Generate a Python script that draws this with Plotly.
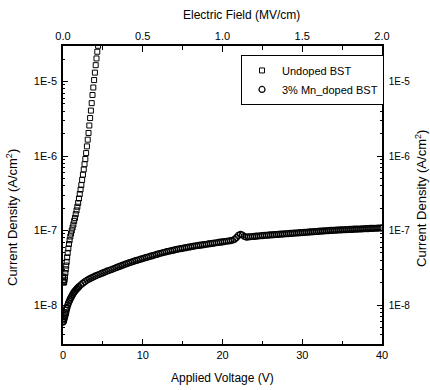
import numpy as np
import plotly.graph_objects as go

# Undoped BST: applied voltage (V) and log10 of current density (A/cm^2)
voltage_undoped = [0.0, 0.05, 0.1, 0.15, 0.2, 0.25, 0.3, 0.35, 0.4, 0.46, 0.52, 0.59,
                   0.67, 0.75, 0.83, 0.92, 1.0, 1.1, 1.2, 1.3, 1.4, 1.5, 1.6, 1.7,
                   1.8, 1.9, 2.0, 2.1, 2.2, 2.3, 2.4, 2.5, 2.6, 2.7, 2.8, 2.9,
                   3.0, 3.1, 3.2, 3.3, 3.4, 3.5, 3.6, 3.7, 3.8, 3.9, 4.0, 4.1,
                   4.2, 4.3, 4.4, 4.5]
log_j_undoped = [-7.62, -7.68, -7.70, -7.69, -7.66, -7.62, -7.57, -7.52, -7.47, -7.42, -7.36, -7.30,
                 -7.24, -7.18, -7.13, -7.08, -7.04, -7.00, -6.96, -6.92, -6.87, -6.83, -6.78, -6.73,
                 -6.68, -6.63, -6.57, -6.51, -6.45, -6.39, -6.32, -6.25, -6.18, -6.11, -6.04, -5.96,
                 -5.87, -5.78, -5.69, -5.59, -5.49, -5.39, -5.29, -5.18, -5.08, -4.98, -4.88, -4.78,
                 -4.69, -4.60, -4.52, -4.44]

# 3% Mn-doped BST
voltage_doped = [
    0.0, 0.05, 0.1, 0.15, 0.2, 0.25, 0.3, 0.35, 0.4, 0.45, 0.5, 0.6, 0.7, 0.8, 0.9,
    1.0, 1.1, 1.2, 1.3, 1.4, 1.5, 1.6, 1.7, 1.8, 1.9,
    2.0, 2.25, 2.5, 2.75, 3.0, 3.25, 3.5, 3.75, 4.0, 4.25, 4.5, 4.75,
    5.0, 5.25, 5.5, 5.75, 6.0, 6.25, 6.5, 6.75, 7.0, 7.25, 7.5, 7.75,
    8.0, 8.25, 8.5, 8.75, 9.0, 9.25, 9.5, 9.75, 10.0, 10.25, 10.5, 10.75,
    11.0, 11.25, 11.5, 11.75, 12.0, 12.25, 12.5, 12.75, 13.0, 13.25, 13.5, 13.75,
    14.0, 14.25, 14.5, 14.75, 15.0, 15.25, 15.5, 15.75, 16.0, 16.25, 16.5, 16.75,
    17.0, 17.25, 17.5, 17.75, 18.0, 18.25, 18.5, 18.75, 19.0, 19.25, 19.5, 19.75,
    20.0, 20.25, 20.5, 20.75, 21.0, 21.25, 21.5, 21.75, 22.0, 22.25, 22.5, 22.75,
    23.0, 23.25, 23.5, 23.75, 24.0, 24.25, 24.5, 24.75, 25.0, 25.25, 25.5, 25.75,
    26.0, 26.25, 26.5, 26.75, 27.0, 27.25, 27.5, 27.75, 28.0, 28.25, 28.5, 28.75,
    29.0, 29.25, 29.5, 29.75, 30.0, 30.25, 30.5, 30.75, 31.0, 31.25, 31.5, 31.75,
    32.0, 32.25, 32.5, 32.75, 33.0, 33.25, 33.5, 33.75, 34.0, 34.25, 34.5, 34.75,
    35.0, 35.25, 35.5, 35.75, 36.0, 36.25, 36.5, 36.75, 37.0, 37.25, 37.5, 37.75,
    38.0, 38.25, 38.5, 38.75, 39.0, 39.25, 39.5, 39.75, 40.0]
log_j_doped = [
    -8.23, -8.22, -8.20, -8.18, -8.16, -8.14, -8.12, -8.10, -8.07, -8.05, -8.03, -8.00, -7.97, -7.945, -7.92,
    -7.90, -7.88, -7.86, -7.84, -7.826, -7.812, -7.799, -7.787, -7.775, -7.764,
    -7.753, -7.728, -7.706, -7.686, -7.668, -7.652, -7.638, -7.625, -7.613, -7.601, -7.590, -7.579,
    -7.568, -7.557, -7.546, -7.536, -7.526, -7.517, -7.506, -7.495, -7.484, -7.474, -7.464, -7.454,
    -7.444, -7.435, -7.426, -7.417, -7.408, -7.400, -7.392, -7.384, -7.376, -7.368, -7.360, -7.352,
    -7.344, -7.336, -7.328, -7.320, -7.312, -7.305, -7.298, -7.291, -7.284, -7.278, -7.272, -7.266,
    -7.260, -7.254, -7.248, -7.243, -7.238, -7.233, -7.228, -7.223, -7.218, -7.213, -7.208, -7.204,
    -7.200, -7.196, -7.192, -7.188, -7.184, -7.180, -7.176, -7.172, -7.168, -7.164, -7.160, -7.156,
    -7.152, -7.148, -7.144, -7.140, -7.136, -7.130, -7.118, -7.095, -7.065, -7.052, -7.060, -7.080,
    -7.088, -7.086, -7.083, -7.080, -7.078, -7.075, -7.073, -7.070, -7.068, -7.066, -7.063, -7.061,
    -7.059, -7.057, -7.055, -7.053, -7.051, -7.049, -7.047, -7.045, -7.043, -7.041, -7.039, -7.037,
    -7.035, -7.033, -7.031, -7.029, -7.027, -7.025, -7.023, -7.021, -7.019, -7.017, -7.015, -7.013,
    -7.011, -7.009, -7.007, -7.005, -7.003, -7.001, -6.999, -6.998, -6.996, -6.995, -6.993, -6.992,
    -6.990, -6.989, -6.988, -6.986, -6.985, -6.984, -6.982, -6.981, -6.980, -6.979, -6.977, -6.976,
    -6.975, -6.974, -6.972, -6.971, -6.970, -6.969, -6.967, -6.966, -6.965]

voltage_ticks = [0, 10, 20, 30, 40]
field_ticks = [0.0, 0.5, 1.0, 1.5, 2.0]
field_tick_text = ["0.0", "0.5", "1.0", "1.5", "2.0"]
j_ticks = [1e-8, 1e-7, 1e-6, 1e-5]
j_tick_text = ["1E-8", "1E-7", "1E-6", "1E-5"]

j_undoped = np.power(10.0, log_j_undoped)
j_doped = np.power(10.0, log_j_doped)

FONT = "Liberation Sans, Arial, sans-serif"
log_range = [np.log10(3e-9), np.log10(3e-5)]
j_minor = [m * 10.0 ** e for e in range(-9, -4) for m in range(2, 10)]

fig = go.Figure()
fig.add_trace(go.Scatter(
    x=voltage_undoped, y=j_undoped, mode="markers", name="Undoped BST",
    marker=dict(symbol="square-open", size=5, color="black", line=dict(width=1)),
))
fig.add_trace(go.Scatter(
    x=voltage_doped, y=j_doped, mode="markers", name="3% Mn_doped BST",
    marker=dict(symbol="circle-open", size=6, color="black", line=dict(width=1.2)),
))
# carrier trace for the top (electric field) and right axes
fig.add_trace(go.Scatter(x=[None], y=[None], xaxis="x2", yaxis="y2",
                         showlegend=False, hoverinfo="skip"))

common_axis = dict(showline=True, linecolor="black", linewidth=1.5, showgrid=False,
                   zeroline=False, tickcolor="black", ticks="inside")

fig.update_layout(
    width=430, height=390,
    margin=dict(l=63, r=48, t=46, b=46),
    paper_bgcolor="white", plot_bgcolor="white",
    font=dict(family=FONT, size=12, color="black"),
    showlegend=True,
    legend=dict(x=0.558, y=0.970, xanchor="left", yanchor="top",
                bgcolor="white", bordercolor="black", borderwidth=1,
                font=dict(family=FONT, size=11), itemwidth=30,
                tracegroupgap=0),
    xaxis=dict(range=[0, 40], tickvals=voltage_ticks, ticklen=5,
               tickfont=dict(family=FONT, size=11, color="black"),
               minor=dict(dtick=5, ticks="inside", ticklen=3, tickcolor="black"),
               **common_axis),
    yaxis=dict(type="log", range=log_range, tickvals=j_ticks, ticktext=j_tick_text,
               ticklen=5, ticklabelstandoff=2,
               tickfont=dict(family=FONT, size=11, color="black"),
               minor=dict(tickvals=j_minor, ticks="inside", ticklen=2, tickcolor="black"),
               **common_axis),
    xaxis2=dict(overlaying="x", side="top", anchor="y", range=[0, 2.0],
                tickvals=field_ticks, ticktext=field_tick_text, ticklen=6,
                tickfont=dict(family=FONT, size=11, color="black"),
                minor=dict(dtick=0.25, ticks="inside", ticklen=4, tickcolor="black"),
                **common_axis),
    yaxis2=dict(overlaying="y", side="right", anchor="x", type="log", range=log_range,
                tickvals=j_ticks, ticktext=j_tick_text, ticklen=5, ticklabelstandoff=3,
                tickfont=dict(family=FONT, size=10, color="black"),
                minor=dict(tickvals=j_minor, ticks="inside", ticklen=2, tickcolor="black"),
                **common_axis),
    annotations=[
        dict(text="Current Density (A/cm<sup>2</sup>)", x=-0.160, y=0.426,
             xref="paper", yref="paper", xanchor="center", yanchor="middle",
             textangle=-90, showarrow=False, font=dict(family=FONT, size=13)),
        dict(text="Current Density (A/cm<sup>2</sup>)", x=1.122, y=0.49,
             xref="paper", yref="paper", xanchor="center", yanchor="middle",
             textangle=-90, showarrow=False, font=dict(family=FONT, size=13)),
        dict(text="Applied Voltage (V)", x=0.4985, y=-0.114,
             xref="paper", yref="paper", xanchor="center", yanchor="middle",
             showarrow=False, font=dict(family=FONT, size=12)),
        dict(text="Electric Field (MV/cm)", x=0.558, y=1.104,
             xref="paper", yref="paper", xanchor="center", yanchor="middle",
             showarrow=False, font=dict(family=FONT, size=12)),
    ],
)

fig.write_html("out.html")
